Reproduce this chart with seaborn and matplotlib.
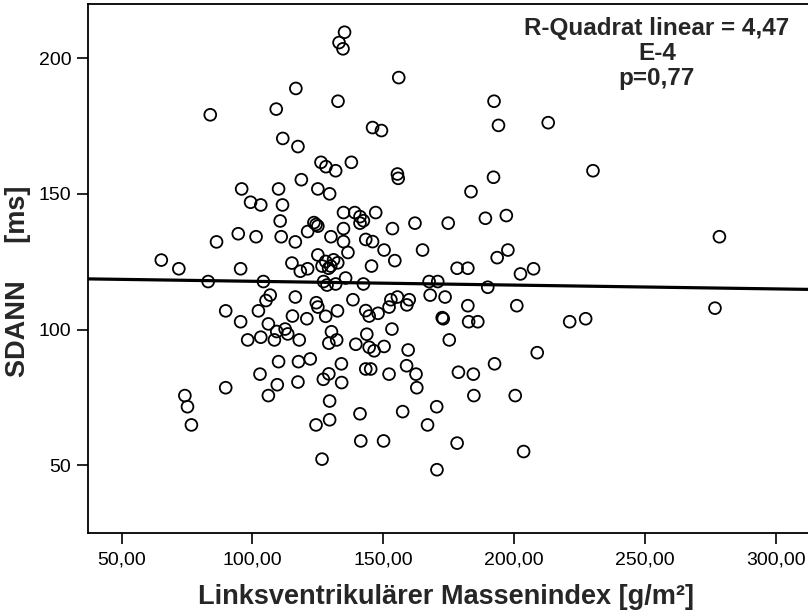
import matplotlib
matplotlib.use("Agg")
import matplotlib.pyplot as plt
import seaborn as sns

# Linksventrikulärer Massenindex [g/m²] (x) und SDANN [ms] (y)
lvmi = [116.6, 109.1, 83.9, 111.6, 117.4, 126.2, 128.1, 118.7,
        135.2, 133.1, 134.6, 155.9, 132.7, 192.3, 194.0, 213.0, 145.9, 149.3,
        131.8, 137.8, 155.4, 155.7, 192.1,
        230.1, 278.4, 221.2, 227.3, 276.7,
        95.9, 110.0, 125.0, 129.5, 99.3, 103.2, 111.5, 110.6, 123.5, 124.3,
        125.0, 121.1, 130.0, 94.6, 101.4, 111.0, 116.4, 86.3, 125.0, 65.2,
        71.9, 95.5, 115.1, 118.3, 121.1, 126.6, 83.1, 104.2, 127.2, 128.5,
        106.8, 105.2, 116.4, 89.8, 102.3, 124.4, 125.0, 115.3, 120.8, 128.0,
        95.5, 106.1, 112.5, 113.5, 109.3, 98.2, 103.2, 108.4, 117.9,
        128.0, 129.9, 131.0, 129.1, 132.6, 131.8,
        183.5, 134.8, 139.1, 141.1, 142.4, 141.1, 147.1, 162.1, 174.8, 189.0,
        197.0, 134.8, 134.8, 143.3, 145.9, 153.5, 150.3, 136.5, 165.0, 154.4,
        145.5, 178.2, 182.3, 193.5, 197.6, 202.4, 207.4, 135.6, 142.4, 167.5,
        170.8, 189.9, 167.9, 173.6, 138.4, 152.9, 155.4, 152.2, 159.0, 159.9,
        132.5, 143.3, 144.6, 148.0, 182.3, 201.0, 172.5, 172.9, 182.6, 186.1,
        130.2, 132.2, 129.2, 143.7, 153.3, 175.2, 139.5, 144.6, 146.5, 150.3,
        159.5, 208.8,
        110.0, 117.6, 122.1, 102.9, 109.5, 106.1, 117.4, 89.8, 74.2, 75.2,
        76.7, 124.3, 126.6,
        134.0, 129.2, 127.1, 134.1, 143.3, 145.2, 152.2, 158.9, 162.5, 162.8,
        178.7, 184.4, 192.5, 184.6, 200.4, 129.5, 129.5, 141.1, 157.4, 170.4,
        166.9, 141.4, 150.1, 178.2, 203.6, 170.5]

sdann = [188.8, 181.2, 179.1, 170.4, 167.4, 161.6, 160.0, 155.2,
         209.5, 205.7, 203.4, 192.8, 184.1, 184.1, 175.2, 176.2, 174.4, 173.3,
         158.5, 161.6, 157.3, 155.7, 156.1,
         158.5, 134.2, 102.9, 104.0, 107.9,
         151.8, 151.8, 151.8, 150.0, 146.9, 145.9, 145.9, 140.0, 139.4, 138.7,
         138.1, 136.1, 134.2, 135.3, 134.2, 134.2, 132.3, 132.3, 127.5, 125.6,
         122.4, 122.4, 124.5, 121.5, 122.4, 123.4, 117.7, 117.7, 117.7, 116.4,
         112.7, 110.7, 112.0, 106.9, 106.9, 109.9, 108.3, 105.0, 104.0, 104.9,
         102.9, 102.1, 100.2, 98.4, 99.3, 96.2, 97.2, 96.2, 96.2,
         125.1, 123.4, 125.7, 122.6, 124.6, 116.8,
         150.8, 143.1, 143.1, 141.6, 140.1, 139.2, 143.1, 139.2, 139.2, 141.0,
         142.0, 137.2, 132.4, 133.2, 132.4, 137.2, 129.3, 128.4, 129.3, 125.4,
         123.4, 122.6, 122.6, 126.5, 129.3, 120.5, 122.4, 119.0, 116.8, 117.7,
         117.7, 115.6, 112.7, 112.0, 111.0, 111.0, 112.0, 108.3, 109.1, 111.0,
         106.9, 107.0, 105.0, 106.0, 108.8, 108.8, 104.4, 104.0, 102.9, 102.9,
         99.2, 96.2, 95.0, 98.3, 100.2, 96.2, 94.6, 93.5, 92.2, 93.8,
         92.5, 91.5,
         88.2, 88.2, 89.2, 83.6, 79.7, 75.7, 80.7, 78.6, 75.7, 71.6,
         64.9, 64.9, 52.3,
         87.4, 83.7, 81.7, 80.5, 85.5, 85.5, 83.6, 86.7, 83.6, 78.6,
         84.3, 83.6, 87.4, 75.7, 75.7, 73.7, 66.8, 69.0, 69.8, 71.6,
         64.9, 59.0, 59.0, 58.2, 55.1, 48.4]

x_ticks = [50, 100, 150, 200, 250, 300]
x_ticklabels = ["50,00", "100,00", "150,00", "200,00", "250,00", "300,00"]
y_ticks = [50, 100, 150, 200]
y_ticklabels = ["50", "100", "150", "200"]

annot_lines = ["R-Quadrat linear = 4,47", "E-4", "p=0,77"]

sns.set_theme(style="ticks")
plt.rcParams["font.family"] = ["Liberation Sans", "DejaVu Sans"]

fig = plt.figure(figsize=(8.08, 6.12), dpi=100)
W, H = 808, 612
ax = fig.add_axes([88 / W, 1 - 533 / H, 722 / W, 529 / H])

ax.set_xlim(37.2, 313.0)
ax.set_ylim(25.1, 219.9)

sns.regplot(x=lvmi, y=sdann, ax=ax, ci=None, truncate=False,
            scatter_kws=dict(color="black", facecolors="none", s=72,
                             linewidths=1.3, alpha=1, zorder=3),
            line_kws=dict(color="black", lw=2.3, zorder=4))

ax.set_xlim(37.2, 313.0)
ax.set_ylim(25.1, 219.9)
ax.set_xticks(x_ticks)
ax.set_xticklabels(x_ticklabels)
ax.set_yticks(y_ticks)
ax.set_yticklabels(y_ticklabels)
ax.tick_params(axis="both", direction="out", length=8, width=1.2,
               color="black", labelsize=14, labelcolor="black")
ax.tick_params(axis="x", pad=5)
ax.tick_params(axis="y", pad=4)

for side in ["left", "bottom", "top"]:
    ax.spines[side].set_color("black")
    ax.spines[side].set_linewidth(1.3)
ax.spines["right"].set_visible(False)
ax.set_xlabel("")
ax.set_ylabel("")

# Achsentitel
fig.text(446 / W, 1 - 597 / H, "Linksventrikulärer Massenindex [g/m²]",
         ha="center", va="center", fontsize=19.5, fontweight="bold")
fig.text(18 / W, 1 - 281 / H, "SDANN     [ms]", rotation=90,
         ha="center", va="center", fontsize=19.5, fontweight="bold")

# Anpassungsgüte
for yy, txt in zip([28, 53, 79], annot_lines):
    fig.text(657 / W, 1 - yy / H, txt, ha="center", va="center",
             fontsize=17.5, fontweight="bold")

fig.savefig("out.png", dpi=100)
